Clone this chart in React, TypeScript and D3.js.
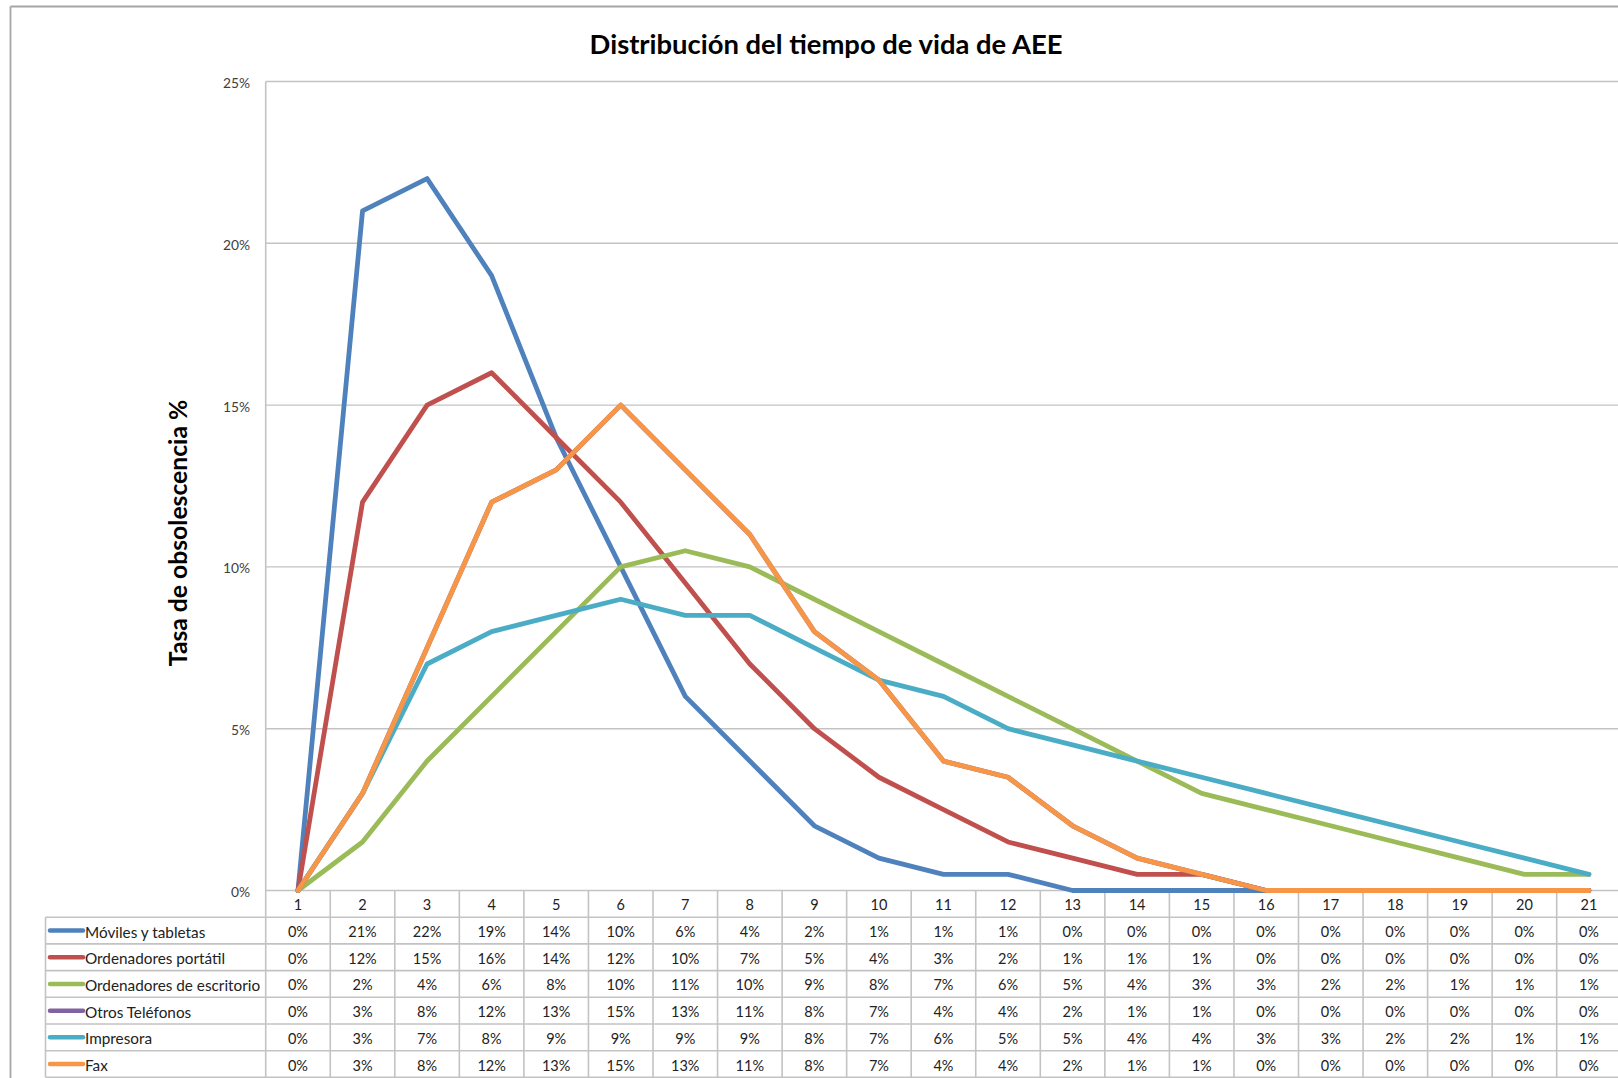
import React from "react";
import * as d3 from "d3";

const categories = ["1","2","3","4","5","6","7","8","9","10","11","12","13","14","15","16","17","18","19","20","21"];
const seriesNames = ["Móviles y tabletas","Ordenadores portátil","Ordenadores de escritorio","Otros Teléfonos","Impresora","Fax"];
const seriesColors = ["#4F81BD","#C0504D","#9BBB59","#8064A2","#4BACC6","#F79646"];

const moviles = [0,21,22,19,14,10,6,4,2,1,0.5,0.5,0,0,0,0,0,0,0,0,0];
const portatil = [0,12,15,16,14,12,9.5,7,5,3.5,2.5,1.5,1,0.5,0.5,0,0,0,0,0,0];
const escritorio = [0,1.5,4,6,8,10,10.5,10,9,8,7,6,5,4,3,2.5,2,1.5,1,0.5,0.5];
const otrosTelefonos = [0,3,7.5,12,13,15,13,11,8,6.5,4,3.5,2,1,0.5,0,0,0,0,0,0];
const impresora = [0,3,7,8,8.5,9,8.5,8.5,7.5,6.5,6,5,4.5,4,3.5,3,2.5,2,1.5,1,0.5];
const fax = [0,3,7.5,12,13,15,13,11,8,6.5,4,3.5,2,1,0.5,0,0,0,0,0,0];
const seriesValues = [moviles, portatil, escritorio, otrosTelefonos, impresora, fax];

const yTicks = [0,5,10,15,20,25];
const title = "Distribución del tiempo de vida de AEE";
const yTitle = "Tasa de obsolescencia %";

const W = 1618, H = 1078;
const FONT = "Lato, 'Open Sans', sans-serif";

export default function App() {
  const plotLeft = 265.7;
  const colW = 64.55;
  const y0 = 890.5;
  const yTop = 81.5;
  const tableLeft = 45.5;
  const rowH = 26.7;

  const x = d3.scaleBand<string>().domain(categories).range([plotLeft, plotLeft + colW * categories.length]).padding(0);
  const y = d3.scaleLinear().domain([0, 25]).range([y0, yTop]);
  const cx = (c: string) => (x(c) as number) + x.bandwidth() / 2;

  const line = d3.line<number>()
    .x((_, i) => cx(categories[i]))
    .y((v) => y(v));

  const gridColor = "#c3c3c3";
  const tableBottom = y0 + rowH * 7;

  return (
    <svg width={W} height={H} style={{ position: "absolute", left: 0, top: 0, background: "#fff" }} fontFamily={FONT}>
      <rect x={0} y={0} width={W} height={H} fill="#fff" />
      {/* frame */}
      <line x1={10.5} y1={6.5} x2={W} y2={6.5} stroke="#a6a6a6" strokeWidth={1.8} />
      <line x1={10.5} y1={6.5} x2={10.5} y2={H} stroke="#a6a6a6" strokeWidth={1.8} />

      {/* title */}
      <text x={826} y={43} textAnchor="middle" dominantBaseline="central" fontSize={27.4} fontWeight="bold" fill="#000">{title}</text>

      {/* gridlines */}
      {yTicks.filter((t) => t > 0).map((t) => (
        <line key={t} x1={plotLeft} x2={W} y1={y(t)} y2={y(t)} stroke={gridColor} strokeWidth={1.4} />
      ))}
      {/* y tick labels */}
      {yTicks.map((t) => (
        <text key={t} x={250} y={y(t) + 1} textAnchor="end" dominantBaseline="central" fontSize={13.8} fill="#404040">{t + "%"}</text>
      ))}
      {/* y title */}
      <text transform={`translate(177,533) rotate(-90)`} textAnchor="middle" dominantBaseline="central" fontSize={24.7} fontWeight="bold" fill="#000">{yTitle}</text>

      {/* table lines */}
      <line x1={plotLeft} x2={W} y1={y0} y2={y0} stroke={gridColor} strokeWidth={1.6} />
      {d3.range(1, 8).map((k) => (
        <line key={"h" + k} x1={tableLeft} x2={W} y1={y0 + k * rowH} y2={y0 + k * rowH} stroke={gridColor} strokeWidth={1.6} />
      ))}
      <line x1={plotLeft} x2={plotLeft} y1={yTop} y2={tableBottom} stroke={gridColor} strokeWidth={1.6} />
      {categories.map((c) => (
        <line key={"v" + c} x1={(x(c) as number) + colW} x2={(x(c) as number) + colW} y1={y0} y2={tableBottom} stroke={gridColor} strokeWidth={1.6} />
      ))}
      <line x1={tableLeft} x2={tableLeft} y1={y0 + rowH} y2={tableBottom} stroke={gridColor} strokeWidth={1.6} />

      {/* header labels */}
      {categories.map((c) => (
        <text key={"c" + c} x={cx(c)} y={y0 + rowH / 2 + 1} textAnchor="middle" dominantBaseline="central" fontSize={14.5} fill="#222">{c}</text>
      ))}

      {/* rows */}
      {seriesNames.map((name, si) => {
        const rc = y0 + rowH * (si + 1) + rowH / 2 + 1;
        return (
          <g key={name}>
            <line x1={50} x2={83} y1={rc - 1} y2={rc - 1} stroke={seriesColors[si]} strokeWidth={4.5} strokeLinecap="round" />
            <text x={85} y={rc} dominantBaseline="central" fontSize={15.3} fill="#222">{name}</text>
            {seriesValues[si].map((v, i) => (
              <text key={i} x={cx(categories[i])} y={rc} textAnchor="middle" dominantBaseline="central" fontSize={14.5} fill="#222">{Math.round(v) + "%"}</text>
            ))}
          </g>
        );
      })}

      {/* series lines */}
      {seriesValues.map((vals, si) => (
        <path key={"s" + si} d={line(vals) as string} fill="none" stroke={seriesColors[si]} strokeWidth={4.8} strokeLinejoin="round" strokeLinecap="round" />
      ))}
    </svg>
  );
}
